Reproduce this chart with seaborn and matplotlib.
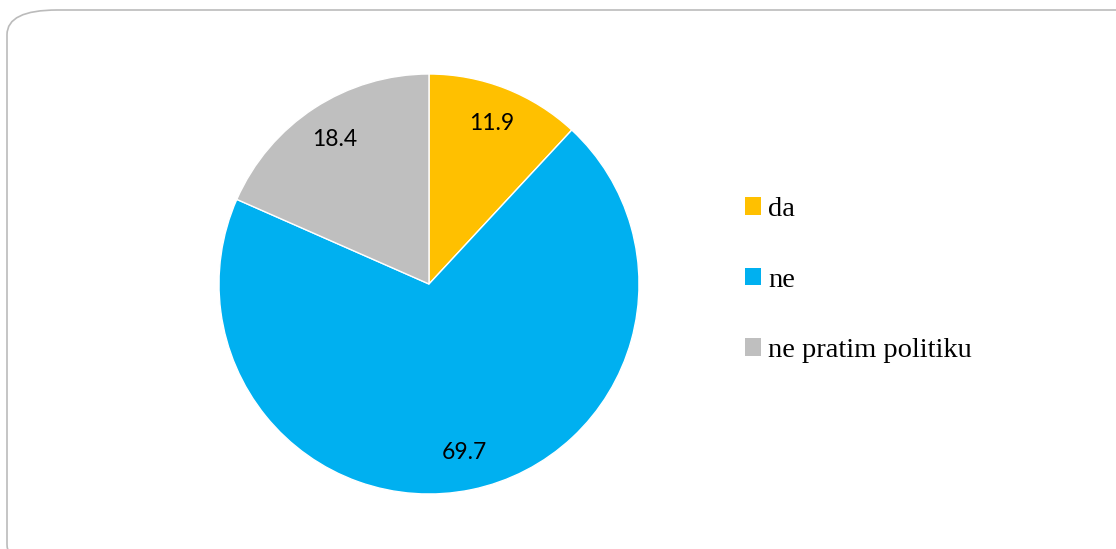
import matplotlib
matplotlib.use('Agg')
import matplotlib.pyplot as plt
from matplotlib.patches import FancyBboxPatch, Patch
import seaborn as sns

sns.set_style('white')

# Data
categories = ['da', 'ne', 'ne pratim politiku']
values = [11.9, 69.7, 18.4]
colors = ['#FFC000', '#00B0F0', '#BFBFBF']

fig = plt.figure(figsize=(11.16, 5.49), dpi=100)

# rounded frame around the chart
frame = FancyBboxPatch((7 / 1116, -20 / 549), 1.2, (549 - 10 + 20) / 549,
                       boxstyle='round,pad=0,rounding_size=0.045',
                       transform=fig.transFigure, facecolor='none',
                       edgecolor='#BBBBBB', linewidth=1.2, mutation_aspect=549 / 1116 * 2.03,
                       zorder=-1)
fig.patches.append(frame)

ax = fig.add_axes([219 / 1116, 55 / 549, 420 / 1116, 420 / 549])
wedges, texts = ax.pie(values, colors=colors, startangle=90, counterclock=False,
                       labels=[f'{v:.1f}' for v in values], labeldistance=0.82,
                       wedgeprops=dict(linewidth=1, edgecolor='white'),
                       textprops=dict(fontsize=16.5, family=['Lato', 'DejaVu Sans'], color='black'))
for t in texts:
    t.set_horizontalalignment('center')
    t.set_verticalalignment('center')
ax.set_xlim(-1, 1)
ax.set_ylim(-1, 1)
ax.set_aspect('equal')
ax.axis('off')

handles = [Patch(facecolor=c, edgecolor='none') for c in colors]
leg = fig.legend(handles, categories, loc='center left', bbox_to_anchor=(745 / 1116, 0.4895),
                 frameon=False, borderpad=0, borderaxespad=0,
                 handlelength=0.57, handleheight=0.57, handletextpad=0.25,
                 labelspacing=1.6, labelcolor='black',
                 prop=dict(family='Liberation Serif', size=20.5))

fig.savefig('out.png', dpi=100)
